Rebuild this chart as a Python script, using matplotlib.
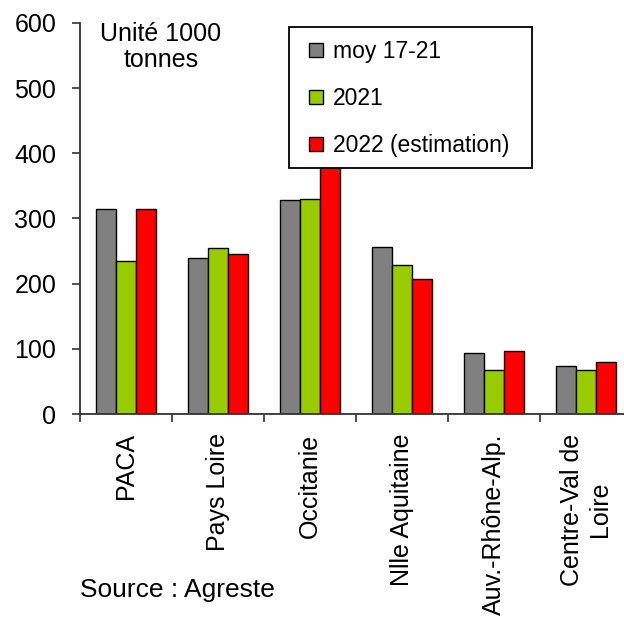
import matplotlib.pyplot as plt
from matplotlib.patches import Rectangle
import numpy as np

plt.rcParams['font.family'] = ['Liberation Sans', 'DejaVu Sans']

regions = ['PACA', 'Pays Loire', 'Occitanie', 'Nlle Aquitaine',
           'Auv.-Rhône-Alp.', 'Centre-Val de\nLoire']
moy_17_21 = [314, 239, 328, 257, 93, 73]
y2021 = [235, 255, 330, 228, 67, 67]
y2022 = [314, 246, 420, 207, 96, 80]

series = [
    (moy_17_21, 'moy 17-21', '#808080'),
    (y2021, '2021', '#99cc00'),
    (y2022, '2022 (estimation)', '#ff0000'),
]

W, H = 624, 622
fig = plt.figure(figsize=(W / 100, H / 100), dpi=100)
ax = fig.add_axes([80 / W, 1 - 414 / H, 552 / W, 391 / H])

x = np.arange(len(regions)) + 0.5
w = 0.22
for k, (vals, label, color) in enumerate(series):
    ax.bar(x + (k - 1) * w, vals, w, color=color, edgecolor='black',
           linewidth=1.0, label=label)

ax.set_xlim(0, len(regions))
ax.set_ylim(0, 600)
ax.set_yticks(range(0, 601, 100))
ax.set_xticks(range(len(regions) + 1))
ax.set_xticklabels([])
ax.set_xticks(x, regions, minor=True)
ax.tick_params(axis='x', which='minor', length=0, pad=14, labelsize=18,
               rotation=90)
ax.tick_params(axis='x', which='major', length=6, width=1.2, color='#333333')
ax.tick_params(axis='y', length=6, width=1.2, color='#333333', pad=11,
               labelsize=18)
for s in ['top', 'right']:
    ax.spines[s].set_visible(False)
for s in ['left', 'bottom']:
    ax.spines[s].set_color('#333333')
    ax.spines[s].set_linewidth(1.3)

# legend box drawn separately so that padding can differ per side
fig.patches.append(Rectangle((289 / W, 1 - 168 / H), 243 / W, 141 / H,
                             transform=fig.transFigure, facecolor='white',
                             edgecolor='black', linewidth=1.3, zorder=4))
handles, labels = ax.get_legend_handles_labels()
leg = fig.legend(handles, labels, loc='upper left',
                 bbox_to_anchor=(309 / W, 1 - 40 / H), borderaxespad=0,
                 fontsize=16.5, handlelength=0.6, handleheight=0.6,
                 handletextpad=0.45, labelspacing=1.05, borderpad=0,
                 frameon=False)
leg.set_zorder(5)

fig.text(161 / W, 1 - 47 / H, 'Unité 1000\ntonnes', ha='center',
         va='center', fontsize=18, linespacing=1.15)
fig.text(80 / W, 1 - 590 / H, 'Source : Agreste', ha='left',
         va='center', fontsize=19)

fig.savefig('out.png', dpi=100)
